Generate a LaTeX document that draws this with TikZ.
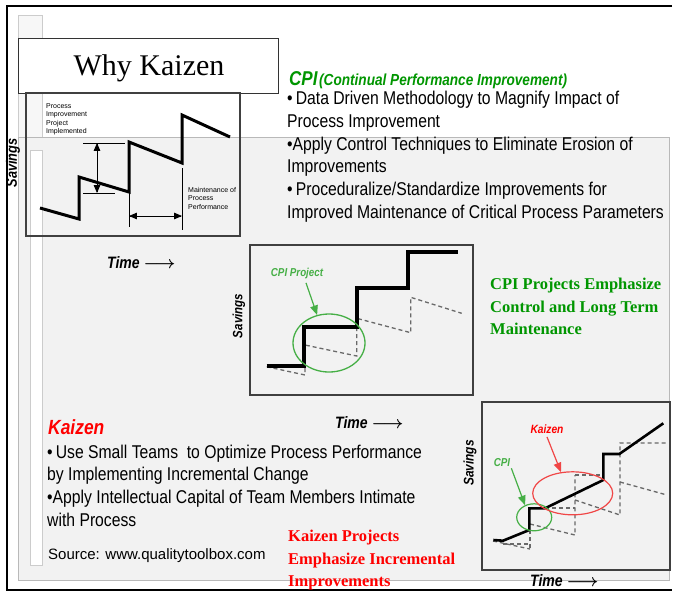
\documentclass[tikz,border=0pt]{standalone}
\usepackage{fontspec}
\setmainfont{Liberation Sans}
\newfontfamily\narrowsf[FakeStretch=0.85]{Liberation Sans}
\newfontfamily\titleserif{Liberation Serif}
\usetikzlibrary{arrows,shapes.geometric}

\definecolor{cpigreen}{RGB}{0,150,0}
\definecolor{ringgreen}{RGB}{70,175,70}
\definecolor{kaired}{RGB}{255,0,0}
\definecolor{ringred}{RGB}{240,70,70}
\definecolor{panelgray}{RGB}{242,242,242}
\definecolor{dashgray}{RGB}{105,105,105}

\tikzset{
  chartbox/.style={draw=black!75, line width=1.2pt},
  trend/.style={line width=#1, line join=miter},
  erosion/.style={draw=dashgray, dash pattern=on 4pt off 3pt, line width=1.3pt},
  savlbl/.style={rotate=90, font=\narrowsf\bfseries\itshape\fontsize{#1}{#1}\selectfont},
  timelbl/.style={anchor=base west, inner sep=0, font=\narrowsf\bfseries\itshape\boldmath\fontsize{16.5}{16.5}\selectfont},
  bodytext/.style={anchor=north west, align=left, inner sep=0, font=\narrowsf\fontsize{18.5}{22.7}\selectfont},
  notetext/.style={anchor=north west, align=left, inner sep=0, font=\titleserif\bfseries\fontsize{16.5}{22.5}\selectfont},
  tinytext/.style={anchor=north west, align=left, inner sep=0, font=\fontsize{7}{8.6}\selectfont},
  pointer/.style={->, line width=1.2pt}
}

\begin{document}
\begin{tikzpicture}[x=1pt, y=-1pt, >=triangle 45]
\useasboundingbox (0,0) rectangle (676,592);
% slide background
\fill [white] (0,0) rectangle (676,592);
\draw [gray!40, fill=gray!6] (18,15) rectangle (42,137);
\draw [gray!55, fill=panelgray] (18,137) rectangle (669,580);
\draw [gray!40, fill=white] (30,150) rectangle (42,565);
\draw [line width=2pt] (672,6) -- (7,6) -- (7,590) -- (672,590);

% title
\node [draw=black!80, line width=1pt, fill=white, minimum width=260, minimum height=55, inner sep=0] (titel) at (148,65.5) {};
\node [anchor=base, inner sep=0, font=\titleserif\fontsize{30}{30}\selectfont] (titeltext) at (149,75) {Why Kaizen};

% chart 1 : erosion without control
\begin{scope}
  \node [chartbox, minimum width=214, minimum height=143, inner sep=0] (box1) at (133,164.5) {};
  \draw [trend=3pt] (40,208) -- (79,219) -- (79,177) -- (129,192) -- (129,142) -- (182,163) -- (182,115) -- (230,137);
  \draw [-] (83,143) -- (125,143);
  \draw [-] (83,193) -- (115,193);
  \draw [<->, line width=0.8pt] (97,143) -- (97,193);
  \draw [-] (129,192) -- (129,227);
  \draw [-] (182,168) -- (182,230);
  \draw [<->, line width=0.8pt] (129,216) -- (182,216);
  \node [tinytext] (projlbl) at (46,103) {Process\\Improvement\\Project\\Implemented};
  \node [tinytext] (maintlbl) at (188,187) {Maintenance of\\Process\\Performance};
  \node [savlbl=15] (sav1) at (13,163) {Savings};
  \node [timelbl] (time1) at (107,268) {Time $\longrightarrow$};
\end{scope}

% CPI text
\node [anchor=base west, inner sep=0, text=cpigreen, font=\narrowsf\bfseries\itshape] (cpihead) at (289,85)
  {{\fontsize{20}{20}\selectfont CPI}\,{\fontsize{16}{16}\selectfont(Continual Performance Improvement)}};
\node [bodytext] (cpitext) at (287,91) {\textbullet\,Data Driven Methodology to Magnify Impact of\\Process Improvement\\\textbullet Apply Control Techniques to Eliminate Erosion of\\Improvements\\\textbullet\,Proceduralize/Standardize Improvements for\\Improved Maintenance of Critical Process Parameters};

% chart 2 : CPI project
\begin{scope}
  \node [chartbox, minimum width=223, minimum height=150, inner sep=0] (box2) at (361.5,320) {};
  \draw [erosion] (266.7,366.7) -- (305,375) -- (305,345) -- (356.7,356) -- (356.7,318.3) -- (410.7,332.7) -- (410.7,297.3) -- (461.7,313.3);
  \draw [trend=4pt] (266.7,365.7) -- (304.3,365.7) -- (304.3,327.3) -- (357.3,327.3) -- (357.3,288.3) -- (407.7,288.3) -- (407.7,251.7) -- (458.3,251.7);
  \node [ellipse, draw=ringgreen, line width=1.3pt, minimum width=72, minimum height=58, inner sep=0] (cpiring) at (329,343) {};
  \node [text=ringgreen, font=\narrowsf\bfseries\itshape\fontsize{11.5}{11.5}\selectfont] (cpilbl) at (297,274) {CPI Project};
  \draw [pointer, ringgreen] ([xshift=9]cpilbl.south) -- (cpiring.113);
  \node [savlbl=13.5] (sav2) at (239,316) {Savings};
  \node [timelbl] (time2) at (335,428.7) {Time $\longrightarrow$};
\end{scope}

\node [notetext, text=cpigreen] (cpinote) at (490,278) {CPI Projects Emphasize\\Control and Long Term\\Maintenance};

% Kaizen text
\node [anchor=base west, inner sep=0, text=kaired, font=\narrowsf\bfseries\itshape\fontsize{20.5}{20.5}\selectfont] (kzhead) at (48,434.7) {Kaizen};
\node [bodytext] (kztext) at (47,444.5) {\textbullet\,Use Small Teams\ \ to Optimize Process Performance\\by Implementing Incremental Change\\\textbullet Apply Intellectual Capital of Team Members Intimate\\with Process};
\node [anchor=base west, inner sep=0, font=\fontsize{15}{15}\selectfont] (source) at (48,559) {Source: www.qualitytoolbox.com};
\node [notetext, text=kaired] (kznote) at (288,530) {Kaizen Projects\\Emphasize Incremental\\Improvements};

% chart 3 : Kaizen
\begin{scope}
  \node [chartbox, minimum width=188, minimum height=168, inner sep=0] (box3) at (576,486) {};
  \draw [erosion] (493,541) -- (530,549);
  \draw [erosion] (503,544) -- (530,544);
  \draw [erosion] (530,530) -- (530,549);
  \draw [erosion] (530,524) -- (575,535) -- (575,475);
  \draw [erosion] (545,508) -- (575,508);
  \draw [erosion] (575,475) -- (603,475);
  \draw [erosion] (575,500) -- (620,515) -- (620,443) -- (667,443);
  \draw [erosion] (620,482) -- (667,495);
  \draw [trend=2.6pt] (493.3,540) -- (503,540.7) -- (529.3,530) -- (529.3,508.3) -- (545,508.3) -- (603.3,480) -- (603.3,454) -- (619.3,454) -- (663.3,423.3);
  \node [ellipse, draw=ringgreen, line width=1.2pt, minimum width=35, minimum height=27, inner sep=0] (cpiring2) at (534.2,517.3) {};
  \node [ellipse, draw=ringred, line width=1.2pt, minimum width=80, minimum height=43, inner sep=0] (kzring) at (572.7,493.3) {};
  \node [text=ringgreen, font=\narrowsf\bfseries\itshape\fontsize{11.5}{11.5}\selectfont, inner sep=1pt] (cpismall) at (502,463) {CPI};
  \node [text=kaired, font=\narrowsf\bfseries\itshape\fontsize{12}{12}\selectfont] (kzlbl) at (547,429) {Kaizen};
  \draw [pointer, ringgreen] (cpismall.south east) -- (cpiring2.127);
  \draw [pointer, ringred] (kzlbl.south) -- (kzring.119);
  \node [savlbl=14] (sav3) at (470,463) {Savings};
  \node [timelbl] (time3) at (530,586.7) {Time $\longrightarrow$};
\end{scope}
\end{tikzpicture}
\end{document}
